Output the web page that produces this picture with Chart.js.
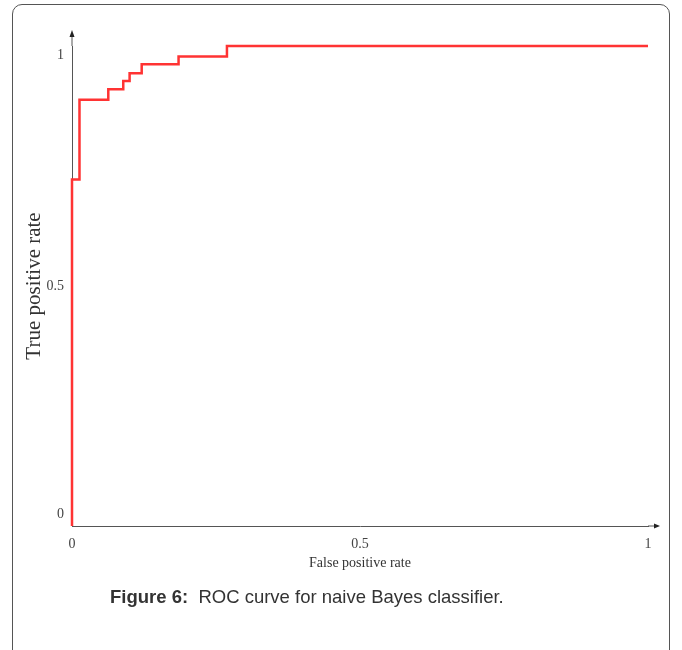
<!DOCTYPE html>
<html>
<head>
<meta charset="utf-8">
<script src="https://cdn.jsdelivr.net/npm/chart.js"></script>
<style>
  html, body { margin: 0; padding: 0; background: #fff; }
  body { width: 682px; height: 650px; position: relative; overflow: hidden; }
  .card {
    position: absolute; left: 12px; top: 4px; width: 658px; height: 660px;
    border: 1px solid #555; border-radius: 10px; box-sizing: border-box;
  }
  .chart-box { position: absolute; left: 0; top: 0; width: 682px; height: 590px; }
  .caption {
    position: absolute; left: 110px; top: 586px;
    font-family: "Liberation Sans", Arial, sans-serif; font-size: 18.5px; color: #333;
    white-space: pre;
  }
  .caption b { font-weight: bold; }
</style>
</head>
<body>
<div class="card"></div>
<div class="chart-box"><canvas id="rocChart" width="682" height="590"></canvas></div>
<div class="caption"><b>Figure 6:</b>  ROC curve for naive Bayes classifier.</div>

<script>
// ROC points (false positive rate, true positive rate)
const fpr = [0, 0, 0.013, 0.063, 0.089, 0.10, 0.121, 0.185, 0.269, 1];
const tpr = [0, 0.722, 0.888, 0.91, 0.927, 0.943, 0.962, 0.978, 1.0, 1.0];

const xTickValues = [0, 0.5, 1];
const xTickLabels = ['0', '0.5', '1'];
const yTickValues = [0, 0.5, 1];
const yTickLabels = ['0', '0.5', '1'];

const serif = '"Liberation Serif", "Times New Roman", serif';
const axisColor = '#555';

// axis arrows and y tick labels (the originals sit slightly inside the ends)
const axisDecor = {
  id: 'axisDecor',
  afterDraw(chart) {
    const { ctx, chartArea } = chart;
    const x0 = chartArea.left, y0 = chartArea.bottom;
    ctx.save();
    ctx.strokeStyle = axisColor;
    ctx.fillStyle = '#222';
    ctx.lineWidth = 1;
    // y axis extension + arrow
    ctx.beginPath();
    ctx.moveTo(x0, chartArea.top);
    ctx.lineTo(x0, chartArea.top - 12);
    ctx.stroke();
    ctx.beginPath();
    ctx.moveTo(x0, chartArea.top - 16);
    ctx.lineTo(x0 - 2.5, chartArea.top - 9);
    ctx.lineTo(x0 + 2.5, chartArea.top - 9);
    ctx.closePath();
    ctx.fill();
    // x axis extension + arrow
    ctx.beginPath();
    ctx.moveTo(chartArea.right, y0);
    ctx.lineTo(chartArea.right + 8, y0);
    ctx.stroke();
    ctx.beginPath();
    ctx.moveTo(chartArea.right + 12, y0);
    ctx.lineTo(chartArea.right + 6, y0 - 2.5);
    ctx.lineTo(chartArea.right + 6, y0 + 2.5);
    ctx.closePath();
    ctx.fill();

    // y tick labels
    const yScale = chart.scales.y;
    ctx.fillStyle = '#444';
    ctx.font = '14px ' + serif;
    ctx.textAlign = 'right';
    ctx.textBaseline = 'middle';
    yTickValues.forEach((v, i) => {
      let py = yScale.getPixelForValue(v);
      if (v === 1) py += 9;
      if (v === 0) py -= 12;
      ctx.fillText(yTickLabels[i], x0 - 8, py);
    });
    ctx.restore();
  }
};

new Chart(document.getElementById('rocChart'), {
  type: 'line',
  data: {
    datasets: [{
      label: 'ROC',
      data: fpr.map((x, i) => ({ x: x, y: tpr[i] })),
      borderColor: '#ff3333',
      borderWidth: 2.5,
      pointRadius: 0,
      stepped: 'before',
      fill: false,
      clip: false
    }]
  },
  options: {
    responsive: false,
    animation: false,
    layout: { padding: { left: 20, right: 34, top: 46, bottom: 0 } },
    plugins: { legend: { display: false }, tooltip: { enabled: false } },
    scales: {
      x: {
        type: 'linear',
        min: 0,
        max: 1,
        afterFit(scale) { scale.height = 64; },
        afterBuildTicks(scale) { scale.ticks = xTickValues.map(v => ({ value: v })); },
        grid: { display: false, drawTicks: false },
        border: { display: true, color: axisColor, width: 1 },
        ticks: {
          padding: 10,
          color: '#444',
          font: { family: serif, size: 14 },
          callback: (v) => xTickLabels[xTickValues.indexOf(v)]
        },
        title: {
          display: true,
          text: 'False positive rate',
          color: '#333',
          font: { family: serif, size: 14 },
          padding: { top: 0, bottom: 18 }
        }
      },
      y: {
        type: 'linear',
        min: 0,
        max: 1,
        afterFit(scale) { scale.width = 52; },
        grid: { display: false, drawTicks: false },
        border: { display: true, color: axisColor, width: 1 },
        ticks: { display: false },
        title: {
          display: true,
          text: 'True positive rate',
          color: '#333',
          font: { family: serif, size: 21 },
          padding: { top: 2, bottom: 0 }
        }
      }
    }
  },
  plugins: [axisDecor]
});
</script>
</body>
</html>
